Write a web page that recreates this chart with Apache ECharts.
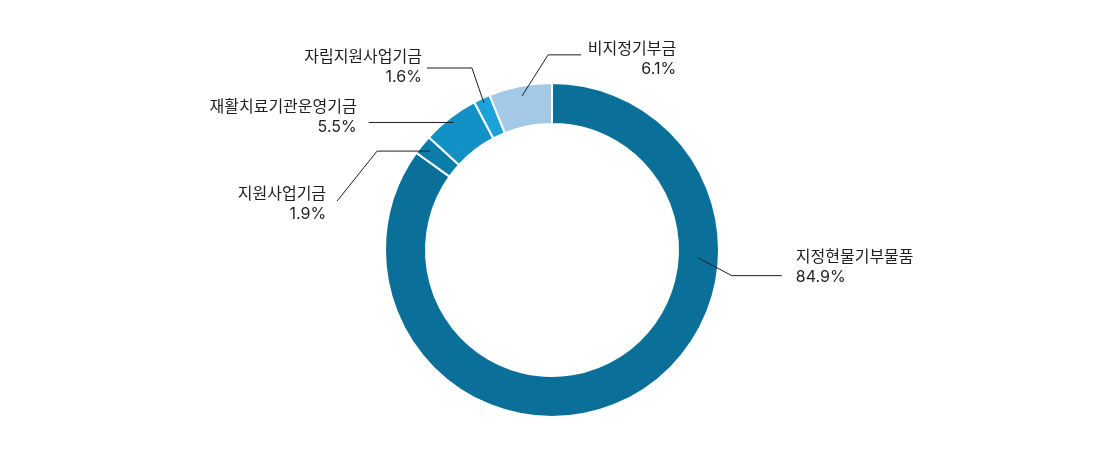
<!DOCTYPE html>
<html>
<head>
<meta charset="utf-8">
<script src="https://cdn.jsdelivr.net/npm/echarts@6/dist/echarts.min.js"></script>
<style>
html,body{margin:0;padding:0;background:#fff;}
#chart{width:1104px;height:457px;}
</style>
</head>
<body>
<div id="chart"></div>
<script>
// ---- data ----
const categories = ['지정현물기부물품', '지원사업기금', '재활치료기관운영기금', '자립지원사업기금', '비지정기부금'];
const values = [84.9, 1.9, 5.5, 1.6, 6.1];
const colors = ['#0a6f99', '#0b7dab', '#1291c7', '#1ba2da', '#a3c9e6'];

// ---- label guide shapes (relative to the anchor on the ring) ----
const guides = [
  { anchorAngle: -3, r: 146, p1: [34, 18], p2: [84, 18], lab: [14, -8], align: 'left' },
  { r: 157, p1: [-53, 0], p2: [-93, 50], lab: [-11, 3], align: 'right' },
  { r: 161, p1: [0, 0], p2: [-85, 0], lab: [-12, -5], align: 'right' },
  { r: 162, p1: [-12, -35], p2: [-57, -35], lab: [-5, -1], align: 'right' },
  { r: 157, p1: [26, -41], p2: [59, -41], lab: [95, 4], align: 'right' }
];

const CX = 552, CY = 250;
const total = values.reduce((a, b) => a + b, 0);
const midAngles = [];
let acc = 0;
values.forEach(v => { midAngles.push(90 - 360 * (acc + v / 2) / total); acc += v; });

const common = {
  type: 'pie',
  center: [CX, CY],
  radius: [126, 167],
  startAngle: 90,
  clockwise: true,
  avoidLabelOverlap: false,
  emphasis: { disabled: true },
  silent: true
};

const chart = echarts.init(document.getElementById('chart'), null, { renderer: 'canvas' });
chart.setOption({
  backgroundColor: '#ffffff',
  animation: false,
  series: [
    Object.assign({}, common, {
      z: 2,
      itemStyle: { borderColor: '#ffffff', borderWidth: 2 },
      label: { show: false },
      labelLine: { show: false },
      data: categories.map((c, i) => ({ name: c, value: values[i], itemStyle: { color: colors[i] } }))
    }),
    Object.assign({}, common, {
      z: 5,
      itemStyle: { color: 'rgba(0,0,0,0)', borderWidth: 0 },
      label: {
        show: true,
        position: 'outside',
        color: '#1e1e1e',
        fontFamily: 'Inter, "Noto Sans CJK KR", sans-serif',
        fontSize: 16,
        lineHeight: 20,
        formatter: p => p.name + '\n' + p.value.toFixed(1) + '%'
      },
      labelLine: { show: true, showAbove: true, lineStyle: { color: '#1e1e1e', width: 1 } },
      labelLayout: function (params) {
        const i = params.dataIndex;
        const g = guides[i];
        const ang = (g.anchorAngle != null ? g.anchorAngle : midAngles[i]) * Math.PI / 180;
        const p0 = [CX + g.r * Math.cos(ang), CY - g.r * Math.sin(ang)];
        const p1 = [p0[0] + g.p1[0], p0[1] + g.p1[1]];
        const p2 = [p0[0] + g.p2[0], p0[1] + g.p2[1]];
        return {
          x: p2[0] + g.lab[0],
          y: p2[1] + g.lab[1],
          align: g.align,
          verticalAlign: 'middle',
          labelLinePoints: [p0, p1, p2]
        };
      },
      data: categories.map((c, i) => ({ name: c, value: values[i] }))
    })
  ]
});
</script>
</body>
</html>
